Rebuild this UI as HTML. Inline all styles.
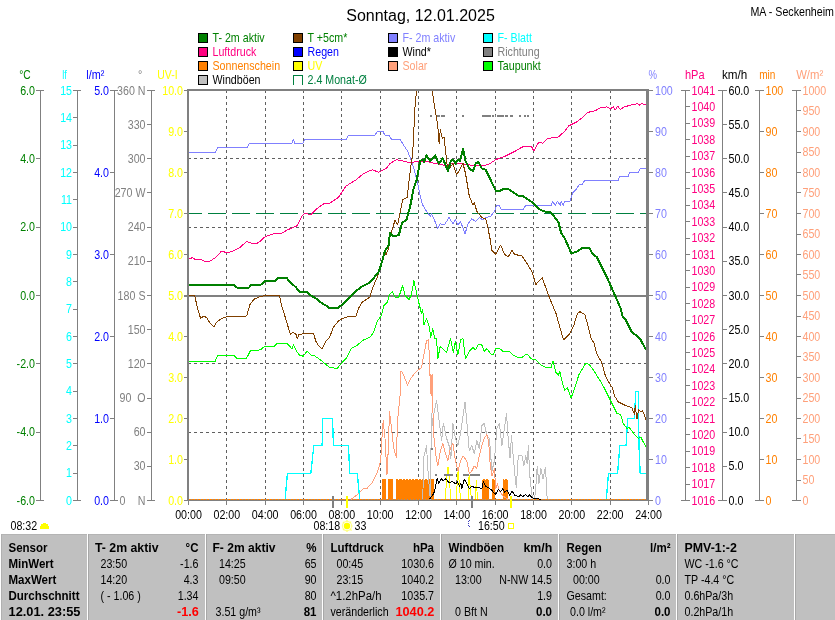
<!DOCTYPE html>
<html><head><meta charset="utf-8"><title>Wetter</title>
<style>html,body{margin:0;padding:0;background:#fff;overflow:hidden}svg{display:block;will-change:transform}text{font-family:"Liberation Sans",sans-serif;white-space:pre}</style>
</head><body>
<svg width="835" height="620" viewBox="0 0 835 620">
<rect x="0" y="0" width="835" height="620" fill="#fff"/>
<text x="420.5" y="20.6" font-size="16" text-anchor="middle" fill="#000">Sonntag, 12.01.2025</text>
<text transform="translate(834,15.8) scale(0.89,1)" fill="#000" text-anchor="end" font-size="12">MA - Seckenheim</text>
<rect x="198.5" y="33.5" width="9" height="9" fill="#008000" stroke="#000" stroke-width="1" shape-rendering="crispEdges"/>
<text transform="translate(212.5,42.3) scale(0.89,1)" fill="#008000" text-anchor="start" font-size="12">T- 2m aktiv</text>
<rect x="198.5" y="47.5" width="9" height="9" fill="#FF0080" stroke="#000" stroke-width="1" shape-rendering="crispEdges"/>
<text transform="translate(212.5,56.3) scale(0.89,1)" fill="#FF0080" text-anchor="start" font-size="12">Luftdruck</text>
<rect x="198.5" y="61.5" width="9" height="9" fill="#FF8000" stroke="#000" stroke-width="1" shape-rendering="crispEdges"/>
<text transform="translate(212.5,70.3) scale(0.89,1)" fill="#FF8000" text-anchor="start" font-size="12">Sonnenschein</text>
<rect x="198.5" y="75.5" width="9" height="9" fill="#C0C0C0" stroke="#000" stroke-width="1" shape-rendering="crispEdges"/>
<text transform="translate(212.5,84.3) scale(0.89,1)" fill="#000" text-anchor="start" font-size="12">Windböen</text>
<rect x="293.5" y="33.5" width="9" height="9" fill="#804000" stroke="#000" stroke-width="1" shape-rendering="crispEdges"/>
<text transform="translate(307.5,42.3) scale(0.89,1)" fill="#008000" text-anchor="start" font-size="12">T +5cm*</text>
<rect x="293.5" y="47.5" width="9" height="9" fill="#0000FF" stroke="#000" stroke-width="1" shape-rendering="crispEdges"/>
<text transform="translate(307.5,56.3) scale(0.89,1)" fill="#0000FF" text-anchor="start" font-size="12">Regen</text>
<rect x="293.5" y="61.5" width="9" height="9" fill="#FFFF00" stroke="#000" stroke-width="1" shape-rendering="crispEdges"/>
<text transform="translate(307.5,70.3) scale(0.89,1)" fill="#FFFF00" text-anchor="start" font-size="12">UV</text>
<path d="M293.5 84.5V75.5H302.5V84.5" fill="none" stroke="#008040" stroke-width="1" shape-rendering="crispEdges"/>
<text transform="translate(307.5,84.3) scale(0.89,1)" fill="#008040" text-anchor="start" font-size="12">2.4 Monat-Ø</text>
<rect x="388.5" y="33.5" width="9" height="9" fill="#8080FF" stroke="#000" stroke-width="1" shape-rendering="crispEdges"/>
<text transform="translate(402.5,42.3) scale(0.89,1)" fill="#8080FF" text-anchor="start" font-size="12">F- 2m aktiv</text>
<rect x="388.5" y="47.5" width="9" height="9" fill="#000000" stroke="#000" stroke-width="1" shape-rendering="crispEdges"/>
<text transform="translate(402.5,56.3) scale(0.89,1)" fill="#000" text-anchor="start" font-size="12">Wind*</text>
<rect x="388.5" y="61.5" width="9" height="9" fill="#FFA07A" stroke="#000" stroke-width="1" shape-rendering="crispEdges"/>
<text transform="translate(402.5,70.3) scale(0.89,1)" fill="#FFA07A" text-anchor="start" font-size="12">Solar</text>
<rect x="483.5" y="33.5" width="9" height="9" fill="#00FFFF" stroke="#000" stroke-width="1" shape-rendering="crispEdges"/>
<text transform="translate(497.5,42.3) scale(0.89,1)" fill="#00FFFF" text-anchor="start" font-size="12">F- Blatt</text>
<rect x="483.5" y="47.5" width="9" height="9" fill="#808080" stroke="#000" stroke-width="1" shape-rendering="crispEdges"/>
<text transform="translate(497.5,56.3) scale(0.89,1)" fill="#808080" text-anchor="start" font-size="12">Richtung</text>
<rect x="483.5" y="61.5" width="9" height="9" fill="#00FF00" stroke="#000" stroke-width="1" shape-rendering="crispEdges"/>
<text transform="translate(497.5,70.3) scale(0.89,1)" fill="#008000" text-anchor="start" font-size="12">Taupunkt</text>
<g shape-rendering="crispEdges">
<line x1="226.5" y1="90" x2="226.5" y2="500" stroke="#606060" stroke-width="1" stroke-dasharray="3 3"/>
<line x1="265.5" y1="90" x2="265.5" y2="500" stroke="#606060" stroke-width="1" stroke-dasharray="3 3"/>
<line x1="303.5" y1="90" x2="303.5" y2="500" stroke="#606060" stroke-width="1" stroke-dasharray="3 3"/>
<line x1="341.5" y1="90" x2="341.5" y2="500" stroke="#606060" stroke-width="1" stroke-dasharray="3 3"/>
<line x1="380.5" y1="90" x2="380.5" y2="500" stroke="#606060" stroke-width="1" stroke-dasharray="3 3"/>
<line x1="418.5" y1="90" x2="418.5" y2="500" stroke="#606060" stroke-width="1" stroke-dasharray="3 3"/>
<line x1="456.5" y1="90" x2="456.5" y2="500" stroke="#606060" stroke-width="1" stroke-dasharray="3 3"/>
<line x1="495.5" y1="90" x2="495.5" y2="500" stroke="#606060" stroke-width="1" stroke-dasharray="3 3"/>
<line x1="533.5" y1="90" x2="533.5" y2="500" stroke="#606060" stroke-width="1" stroke-dasharray="3 3"/>
<line x1="571.5" y1="90" x2="571.5" y2="500" stroke="#606060" stroke-width="1" stroke-dasharray="3 3"/>
<line x1="610.5" y1="90" x2="610.5" y2="500" stroke="#606060" stroke-width="1" stroke-dasharray="3 3"/>
<line x1="188" y1="158.5" x2="647" y2="158.5" stroke="#606060" stroke-width="1" stroke-dasharray="3 3"/>
<line x1="188" y1="227.5" x2="647" y2="227.5" stroke="#606060" stroke-width="1" stroke-dasharray="3 3"/>
<line x1="188" y1="363.5" x2="647" y2="363.5" stroke="#606060" stroke-width="1" stroke-dasharray="3 3"/>
<line x1="188" y1="432.5" x2="647" y2="432.5" stroke="#606060" stroke-width="1" stroke-dasharray="3 3"/>
</g>
<g shape-rendering="crispEdges" fill="#FF8000">
<rect x="382" y="479" width="4" height="21"/>
<rect x="388" y="479" width="4.5" height="21"/>
<rect x="396" y="479" width="38" height="21"/>
<rect x="482" y="479" width="7" height="21"/>
<rect x="492" y="479" width="3" height="21"/>
<rect x="503" y="479" width="5" height="21"/>
</g>
<g shape-rendering="crispEdges" fill="#fff">
<rect x="398" y="479" width="1" height="1"/>
<rect x="402" y="479" width="1" height="1"/>
<rect x="405" y="479" width="1" height="1"/>
<rect x="408" y="479" width="1" height="1"/>
<rect x="411" y="479" width="1" height="1"/>
<rect x="414" y="479" width="1" height="1"/>
<rect x="418" y="479" width="1" height="1"/>
<rect x="421" y="479" width="1" height="1"/>
<rect x="424" y="479" width="1" height="1"/>
<rect x="427" y="479" width="1" height="1"/>
<rect x="430" y="479" width="1" height="1"/>
<rect x="434" y="479" width="1" height="1"/>
<rect x="437" y="479" width="1" height="1"/>
<rect x="440" y="479" width="1" height="1"/>
<rect x="443" y="479" width="1" height="1"/>
<rect x="446" y="479" width="1" height="1"/>
<rect x="450" y="479" width="1" height="1"/>
<rect x="453" y="479" width="1" height="1"/>
<rect x="456" y="479" width="1" height="1"/>
<rect x="459" y="479" width="1" height="1"/>
<rect x="462" y="479" width="1" height="1"/>
<rect x="466" y="479" width="1" height="1"/>
<rect x="469" y="479" width="1" height="1"/>
<rect x="472" y="479" width="1" height="1"/>
<rect x="475" y="479" width="1" height="1"/>
<rect x="478" y="479" width="1" height="1"/>
<rect x="482" y="479" width="1" height="1"/>
<rect x="485" y="479" width="1" height="1"/>
<rect x="488" y="479" width="1" height="1"/>
<rect x="491" y="479" width="1" height="1"/>
<rect x="494" y="479" width="1" height="1"/>
<rect x="498" y="479" width="1" height="1"/>
<rect x="501" y="479" width="1" height="1"/>
<rect x="504" y="479" width="1" height="1"/>
<rect x="507" y="479" width="1" height="1"/>
</g>
<g shape-rendering="crispEdges">
<line x1="188" y1="500.5" x2="649" y2="500.5" stroke="#808080" stroke-width="1"/>
<line x1="188" y1="499.5" x2="647" y2="499.5" stroke="#909090" stroke-width="1"/>
<line x1="189" y1="499.5" x2="647" y2="499.5" stroke="#FF8000" stroke-width="1" stroke-dasharray="2 1"/>
</g>
<g shape-rendering="crispEdges">
<line x1="184" y1="295.5" x2="648" y2="295.5" stroke="#808080" stroke-width="2"/>
</g>
<g shape-rendering="crispEdges">
<line x1="184.3" y1="213.5" x2="647" y2="213.5" stroke="#008040" stroke-width="1" stroke-dasharray="17.6 6.4"/>
<polyline points="422.7,499.4 424.0,455.9 426.5,445.8 428.3,476.0 430.3,499.4 431.5,413.2 432.8,425.7 434.0,413.2 436.6,400.6 439.1,420.7 441.6,440.8 443.3,423.2 446.6,438.3 449.1,445.8 450.9,458.4 452.9,423.2 455.4,438.3 457.9,445.8 460.5,433.3 463.0,415.7 465.0,401.8 466.7,420.7 469.3,450.9 471.8,445.8 474.3,453.4 476.8,440.8 479.3,448.4 481.8,425.7 484.3,423.2 486.9,435.8 489.4,438.3 491.9,471.0 494.4,460.9 496.9,428.2 499.4,423.2 501.9,445.8 504.5,428.2 506.5,413.2 508.2,438.3 510.0,458.4 511.5,435.8 514.5,471.0 516.3,487.3 518.3,455.9 522.1,455.9 523.8,466.0 525.8,455.9 527.1,463.5 528.4,445.8 529.6,473.5 530.9,486.1 532.1,496.1 533.4,499.4 535.4,493.6 537.2,466.0 538.9,483.6 540.9,468.5 543.0,478.5 545.5,467.2 547.2,499.4" fill="none" stroke="#C0C0C0" stroke-width="1" stroke-linejoin="round"/>
<polyline points="351.0,499.4 358.5,493.6 363.6,488.6 367.3,488.1 372.4,482.3 377.4,472.3 380.7,460.9 381.9,438.3 383.2,420.7 385.0,438.3 387.0,474.8 388.2,450.9 389.5,411.9 391.2,425.7 393.8,448.4 396.3,457.2 397.6,420.7 400.1,395.5 400.6,371.3 402.6,372.6 407.6,385.1 411.4,377.6 416.4,371.3 421.5,367.5 424.0,353.7 426.5,341.1 428.6,339.5 430.0,376.0 430.4,394.0 431.0,374.0 431.5,396.0 432.6,374.0 433.0,413.2 434.0,438.3 436.0,455.9 437.8,466.0 440.3,450.9 442.8,443.3 445.4,453.4 447.9,460.9 450.4,448.4 452.9,443.3 455.4,460.9 457.9,471.0 460.5,460.9 463.0,455.9 466.7,460.9 469.3,473.5 471.8,471.0 474.3,466.0 476.8,468.5 479.3,455.9 481.8,445.8 484.3,438.3 486.9,434.5 488.6,440.8 490.1,463.5 491.9,476.0 494.4,468.5 495.7,488.6 497.4,483.6 499.4,491.1 503.2,496.1 508.2,499.4" fill="none" stroke="#FFA07A" stroke-width="1" stroke-linejoin="round"/>
<polyline points="" fill="none" stroke="#FFA07A" stroke-width="1" stroke-linejoin="round"/>
<polyline points="445.4,499.3 446.6,477.0 448.0,467.3 449.5,477.0 450.5,499.3" fill="none" stroke="#FFFF00" stroke-width="1" stroke-linejoin="round"/>
<polyline points="456.2,499.3 457.2,483.0 458.1,470.9 459.3,483.0 460.5,499.3" fill="none" stroke="#FFFF00" stroke-width="1" stroke-linejoin="round"/>
<polyline points="468.1,499.3 469.1,475.2 470.2,487.0 471.4,499.3" fill="none" stroke="#FFFF00" stroke-width="1" stroke-linejoin="round"/>
<polyline points="475.3,499.3 476.3,480.2 477.5,499.3" fill="none" stroke="#FFFF00" stroke-width="1" stroke-linejoin="round"/>
<polyline points="285.1,499.4 287.4,473.5 310.8,473.5 313.8,445.8 322.1,445.8 322.8,418.2 332.6,418.2 333.4,445.8 348.5,445.8 349.7,473.5 357.3,473.5 359.8,499.4" fill="none" stroke="#00FFFF" stroke-width="1.3" stroke-linejoin="round"/>
<polyline points="606.3,499.4 608.5,473.5 617.6,473.5 619.8,445.8 626.1,445.8 627.6,418.2 634.4,418.2 635.7,391.3 638.2,391.3 639.0,445.8 640.2,473.5 646.0,473.5" fill="none" stroke="#00FFFF" stroke-width="1.3" stroke-linejoin="round"/>
<polyline points="188.0,152.6 215.2,152.6 217.7,147.6 247.1,147.6 249.6,143.3 291.9,143.3 293.4,139.6 294.9,143.3 302.7,143.3 304.7,139.6 346.0,139.6 348.5,135.3 374.9,135.3 377.4,131.3 382.9,131.3 385.0,135.3 388.8,135.3 391.3,139.0 400.1,139.0 403.9,145.8 407.6,150.9 411.4,161.0 413.9,168.5 417.7,183.6 420.2,196.2 422.7,205.0 426.5,211.2 430.3,216.3 431.5,213.8 434.0,218.8 437.8,228.8 440.3,223.8 444.1,225.1 449.1,217.5 452.9,223.8 455.4,220.0 457.9,225.1 460.5,221.3 465.0,233.9 468.0,223.8 471.8,218.8 475.5,221.3 479.3,217.5 483.1,220.0 485.6,217.5 490.6,216.3 494.4,211.2 496.9,205.0 499.4,205.7 501.2,209.2 523.3,209.2 525.8,205.3 551.2,205.3 552.8,201.4 555.2,205.3 557.6,201.4 560.1,205.3 561.3,201.4 563.1,205.3 564.8,201.4 570.1,201.0 572.6,193.0 576.4,189.0 579.5,184.4 582.4,184.4 584.5,180.6 618.1,180.6 619.8,176.3 628.1,176.3 629.9,172.3 638.2,172.3 640.2,168.5 646.0,168.5" fill="none" stroke="#8080FF" stroke-width="1" stroke-linejoin="round"/>
<polyline points="188.0,259.4 192.5,257.6 195.0,259.4 201.3,259.4 203.9,261.1 210.2,261.1 216.4,256.9 221.5,251.1 226.5,252.6 231.5,251.8 239.1,248.1 246.6,241.6 250.4,243.0 256.7,243.5 260.5,240.9 265.5,236.4 275.5,233.1 281.8,233.1 288.1,229.6 296.9,225.8 302.7,215.0 305.7,213.0 310.8,215.0 315.8,209.5 324.6,203.2 329.6,203.2 338.4,197.4 346.0,186.1 356.0,179.8 363.6,173.5 372.4,169.7 378.7,172.3 386.2,168.5 390.0,163.5 396.3,159.7 402.6,161.0 410.2,162.7 417.7,161.4 425.2,161.0 435.3,163.5 445.4,165.5 452.9,163.5 460.5,163.5 468.0,164.7 478.1,166.0 488.1,164.7 495.7,159.7 505.7,155.9 515.8,150.9 522.1,147.1 526.3,146.3 531.3,146.3 533.8,150.9 538.9,142.1 542.6,143.3 547.7,138.3 557.7,137.5 564.0,132.0 569.0,125.7 576.6,122.0 581.6,118.2 587.9,112.4 595.5,110.6 600.5,107.6 606.8,106.9 610.5,108.6 613.6,106.9 615.1,110.1 617.6,106.1 620.1,109.4 624.4,106.9 630.7,105.1 634.4,104.3 637.7,103.6 639.5,105.1 642.0,103.6 646.0,105.1" fill="none" stroke="#FF0080" stroke-width="1" stroke-linejoin="round"/>
<polyline points="188.0,361.7 215.2,361.2 217.7,355.5 234.0,355.5 236.6,358.2 246.6,358.2 250.4,350.7 260.5,349.9 264.2,346.7 274.3,346.1 276.8,343.6 286.9,343.1 291.9,348.7 293.7,344.9 295.7,349.9 299.4,355.0 303.2,356.2 307.0,351.2 310.8,355.0 314.5,355.7 322.1,361.2 329.6,367.5 337.2,368.3 342.2,362.5 346.0,358.7 351.0,348.7 356.0,346.1 363.6,339.9 369.9,337.3 373.6,332.3 377.4,321.0 381.2,316.0 383.7,305.9 387.5,302.1 389.5,294.6 392.5,291.6 395.1,297.1 398.8,297.1 402.6,285.8 405.1,295.8 408.9,299.6 411.4,294.6 413.9,280.8 416.4,292.1 419.0,303.4 421.5,313.5 422.7,309.7 424.0,324.8 426.5,318.5 429.0,326.0 430.8,337.3 432.8,328.5 434.8,338.6 436.6,338.6 437.8,358.7 440.3,346.1 444.1,349.9 446.6,352.4 450.4,338.6 453.4,352.4 455.4,341.1 457.9,355.0 460.5,339.9 463.0,338.6 465.5,358.7 469.3,351.2 473.0,347.4 475.5,349.9 478.1,344.9 481.8,344.9 484.3,351.2 486.9,348.7 490.6,353.7 493.1,355.0 495.7,348.2 499.4,348.2 503.2,351.7 509.5,351.7 513.3,355.0 518.3,357.5 522.1,357.5 525.8,354.2 528.4,355.0 530.9,358.7 535.9,360.0 540.9,365.0 546.0,367.5 551.0,367.5 553.0,361.2 556.0,372.6 558.5,375.1 559.8,371.3 562.3,382.6 564.8,390.2 567.3,387.6 571.1,398.0 576.2,383.9 578.7,375.1 582.4,368.8 585.4,363.7 589.2,364.2 594.2,371.3 600.5,381.3 604.3,388.0 610.5,400.6 616.8,413.2 620.6,414.4 623.1,423.2 626.9,428.2 629.4,427.7 634.4,434.5 638.2,438.3 640.7,437.0 646.0,447.1" fill="none" stroke="#00FF00" stroke-width="1" stroke-linejoin="round"/>
<polyline points="188.0,295.3 194.6,295.3 197.6,308.4 200.6,318.5 203.1,316.5 206.4,317.2 210.2,323.5 213.9,326.8 216.4,322.3 221.5,318.5 227.8,316.5 246.6,316.0 249.9,304.6 254.2,299.1 260.5,296.3 268.0,295.3 279.3,295.3 281.8,305.9 285.6,318.5 289.4,331.0 290.6,334.8 292.6,332.3 295.7,333.6 297.4,338.6 298.7,334.8 303.2,333.6 313.3,333.1 315.8,341.1 318.3,345.6 322.1,348.7 325.8,341.1 329.6,337.3 333.4,327.3 338.4,321.0 342.2,318.5 348.5,316.7 356.0,316.0 358.5,308.4 362.3,302.1 369.9,297.1 372.4,288.3 377.4,277.0 381.2,265.7 383.7,253.1 386.2,254.3 388.7,248.1 390.0,236.4 395.1,220.0 397.6,225.0 402.6,200.0 407.1,197.4 410.2,171.0 412.7,153.4 415.2,103.0 416.7,90.0" fill="none" stroke="#804000" stroke-width="1" stroke-linejoin="round"/>
<polyline points="432.3,90.0 434.0,103.0 437.8,125.7 439.1,143.3 440.3,129.5 442.3,138.3 444.1,137.0 446.6,161.0 447.9,171.0 452.9,163.5 456.7,174.8 463.0,163.5 465.5,173.5 469.3,196.2 473.0,205.0 474.3,202.4 476.8,211.2 481.8,217.5 485.6,218.8 488.1,228.8 490.3,240.0 491.9,250.6 495.7,254.3 500.7,245.0 504.5,254.3 508.2,256.9 512.0,250.6 514.5,254.3 522.1,256.1 528.4,265.7 532.1,272.0 535.9,284.5 542.2,277.7 546.0,288.3 549.7,298.4 556.0,313.5 559.8,327.3 563.6,339.9 569.9,333.6 573.6,326.0 577.4,313.5 579.9,311.7 584.9,314.7 588.7,328.5 591.2,338.6 594.2,343.6 596.7,353.7 601.7,362.5 605.5,376.3 610.5,385.1 612.6,388.0 614.3,395.5 618.1,401.8 625.6,405.6 631.9,407.6 634.4,414.4 635.2,405.6 637.0,419.4 638.7,409.4 640.7,411.9 642.5,410.6 646.0,419.4" fill="none" stroke="#804000" stroke-width="1" stroke-linejoin="round"/>
<polyline points="188.0,285.3 234.0,285.3 236.6,287.5 249.1,287.5 250.9,285.0 260.5,285.0 265.0,281.3 274.3,281.3 278.1,278.2 286.9,278.2 290.6,282.8 295.7,287.0 299.4,291.6 307.0,292.1 310.8,295.3 315.8,298.4 322.1,303.4 325.8,305.4 329.6,308.4 337.2,308.4 342.2,304.7 348.5,298.4 354.8,292.1 361.1,287.0 368.6,283.3 373.6,278.2 378.7,271.9 382.4,260.6 385.0,250.6 388.7,245.5 390.0,232.6 393.8,236.4 398.8,235.1 402.1,222.6 406.4,220.0 410.2,206.2 413.9,187.3 416.4,181.0 420.2,161.0 422.7,159.7 424.0,162.2 426.5,155.4 430.3,161.0 435.3,155.4 438.6,163.5 442.8,158.4 447.9,171.0 450.9,161.0 452.9,159.7 455.4,163.5 457.9,159.7 460.0,161.0 463.0,148.9 465.5,161.0 469.3,168.5 473.0,171.0 476.0,163.0 478.6,162.2 481.8,168.5 485.6,169.7 489.4,177.3 495.7,190.6 499.4,191.1 503.2,189.1 508.2,189.1 513.3,192.4 518.3,195.6 523.3,196.2 528.4,199.9 533.4,203.2 538.4,208.7 543.4,211.2 551.0,212.5 556.0,218.8 558.5,222.6 561.0,232.6 564.5,238.0 571.4,253.4 576.6,251.8 582.9,247.6 589.2,247.6 592.9,254.3 596.7,256.9 601.7,266.9 606.8,277.0 611.8,288.3 616.8,299.6 620.6,308.4 622.4,316.0 625.6,319.7 631.9,332.3 637.0,336.1 640.7,339.9 646.0,349.9" fill="none" stroke="#008000" stroke-width="2" stroke-linejoin="round"/>
<polyline points="429.3,499.3 433.6,493.9 435.1,488.9 437.2,478.5 438.7,483.1 441.6,478.5 443.0,481.0 445.9,478.8 448.7,482.4 452.3,481.7 455.9,483.8 457.6,481.7 459.5,486.0 460.9,483.1 461.7,488.9 464.3,479.5 466.7,483.1 469.6,488.9 471.7,486.0 474.6,487.7 482.1,488.1 483.2,481.7 485.4,486.0 489.0,488.1 491.8,490.3 495.4,494.6 498.3,489.6 500.5,491.7 502.6,488.9 504.8,492.4 506.9,490.3 509.8,495.3 512.0,491.0 514.8,495.3 519.1,496.8 520.6,494.6 522.7,496.8 525.6,494.3 527.8,496.8 529.2,494.6 532.1,497.5 534.9,498.6 541.5,499.3" fill="none" stroke="#000" stroke-width="1" stroke-linejoin="round"/>
<rect x="430" y="115" width="2" height="2" fill="#808080"/>
<rect x="437" y="115" width="3" height="2" fill="#808080"/>
<rect x="441" y="115" width="4" height="2" fill="#808080"/>
<rect x="462" y="115" width="2" height="2" fill="#808080"/>
<rect x="482" y="115" width="9" height="2" fill="#808080"/>
<rect x="492" y="115" width="2" height="2" fill="#808080"/>
<rect x="495" y="115" width="1" height="2" fill="#808080"/>
<rect x="497" y="115" width="7" height="2" fill="#808080"/>
<rect x="505" y="115" width="3" height="2" fill="#808080"/>
<rect x="510" y="115" width="3" height="2" fill="#808080"/>
<rect x="519" y="115" width="2" height="2" fill="#808080"/>
<rect x="524" y="115" width="2" height="2" fill="#808080"/>
<rect x="527" y="115" width="2" height="2" fill="#808080"/>
<rect x="435" y="474" width="2" height="2" fill="#808080"/>
<rect x="444" y="474" width="9" height="2" fill="#808080"/>
<rect x="463" y="474" width="6" height="2" fill="#808080"/>
<rect x="470" y="474" width="10" height="2" fill="#808080"/>
<rect x="431" y="448" width="2" height="2" fill="#808080"/>
</g>
<g shape-rendering="crispEdges">
<rect x="187" y="89" width="462" height="2" fill="#808080"/>
<rect x="187" y="89" width="2" height="411" fill="#808080"/>
<rect x="646" y="89" width="3" height="411" fill="#808080"/>
</g>
<g shape-rendering="crispEdges">
<line x1="40.5" y1="90" x2="40.5" y2="501" stroke="#808080" stroke-width="1"/>
<line x1="36" y1="90.5" x2="44" y2="90.5" stroke="#808080" stroke-width="1"/>
<line x1="36" y1="158.5" x2="40" y2="158.5" stroke="#808080" stroke-width="1"/>
<line x1="36" y1="227.5" x2="40" y2="227.5" stroke="#808080" stroke-width="1"/>
<line x1="36" y1="295.5" x2="40" y2="295.5" stroke="#808080" stroke-width="1"/>
<line x1="36" y1="363.5" x2="40" y2="363.5" stroke="#808080" stroke-width="1"/>
<line x1="36" y1="432.5" x2="40" y2="432.5" stroke="#808080" stroke-width="1"/>
<line x1="36" y1="500.5" x2="44" y2="500.5" stroke="#808080" stroke-width="1"/>
</g>
<text transform="translate(35,94.6) scale(0.89,1)" fill="#008000" text-anchor="end" font-size="12">6.0</text>
<text transform="translate(35,162.9333333333333) scale(0.89,1)" fill="#008000" text-anchor="end" font-size="12">4.0</text>
<text transform="translate(35,231.26666666666665) scale(0.89,1)" fill="#008000" text-anchor="end" font-size="12">2.0</text>
<text transform="translate(35,299.6) scale(0.89,1)" fill="#008000" text-anchor="end" font-size="12">0.0</text>
<text transform="translate(35,367.93333333333334) scale(0.89,1)" fill="#008000" text-anchor="end" font-size="12">-2.0</text>
<text transform="translate(35,436.2666666666667) scale(0.89,1)" fill="#008000" text-anchor="end" font-size="12">-4.0</text>
<text transform="translate(35,504.6) scale(0.89,1)" fill="#008000" text-anchor="end" font-size="12">-6.0</text>
<text x="19.2" y="79" fill="#008000" text-anchor="start" font-size="12" textLength="11.5" lengthAdjust="spacingAndGlyphs">°C</text>
<g shape-rendering="crispEdges">
<line x1="77.5" y1="90" x2="77.5" y2="501" stroke="#808080" stroke-width="1"/>
<line x1="73" y1="90.5" x2="81" y2="90.5" stroke="#808080" stroke-width="1"/>
<line x1="73" y1="117.5" x2="77" y2="117.5" stroke="#808080" stroke-width="1"/>
<line x1="73" y1="145.5" x2="77" y2="145.5" stroke="#808080" stroke-width="1"/>
<line x1="73" y1="172.5" x2="77" y2="172.5" stroke="#808080" stroke-width="1"/>
<line x1="73" y1="199.5" x2="77" y2="199.5" stroke="#808080" stroke-width="1"/>
<line x1="73" y1="227.5" x2="77" y2="227.5" stroke="#808080" stroke-width="1"/>
<line x1="73" y1="254.5" x2="77" y2="254.5" stroke="#808080" stroke-width="1"/>
<line x1="73" y1="281.5" x2="77" y2="281.5" stroke="#808080" stroke-width="1"/>
<line x1="73" y1="309.5" x2="77" y2="309.5" stroke="#808080" stroke-width="1"/>
<line x1="73" y1="336.5" x2="77" y2="336.5" stroke="#808080" stroke-width="1"/>
<line x1="73" y1="363.5" x2="77" y2="363.5" stroke="#808080" stroke-width="1"/>
<line x1="73" y1="391.5" x2="77" y2="391.5" stroke="#808080" stroke-width="1"/>
<line x1="73" y1="418.5" x2="77" y2="418.5" stroke="#808080" stroke-width="1"/>
<line x1="73" y1="445.5" x2="77" y2="445.5" stroke="#808080" stroke-width="1"/>
<line x1="73" y1="473.5" x2="77" y2="473.5" stroke="#808080" stroke-width="1"/>
<line x1="73" y1="500.5" x2="81" y2="500.5" stroke="#808080" stroke-width="1"/>
</g>
<text transform="translate(72,94.6) scale(0.89,1)" fill="#00FFFF" text-anchor="end" font-size="12">15</text>
<text transform="translate(72,121.93333333333332) scale(0.89,1)" fill="#00FFFF" text-anchor="end" font-size="12">14</text>
<text transform="translate(72,149.26666666666665) scale(0.89,1)" fill="#00FFFF" text-anchor="end" font-size="12">13</text>
<text transform="translate(72,176.6) scale(0.89,1)" fill="#00FFFF" text-anchor="end" font-size="12">12</text>
<text transform="translate(72,203.9333333333333) scale(0.89,1)" fill="#00FFFF" text-anchor="end" font-size="12">11</text>
<text transform="translate(72,231.26666666666665) scale(0.89,1)" fill="#00FFFF" text-anchor="end" font-size="12">10</text>
<text transform="translate(72,258.6) scale(0.89,1)" fill="#00FFFF" text-anchor="end" font-size="12">9</text>
<text transform="translate(72,285.9333333333334) scale(0.89,1)" fill="#00FFFF" text-anchor="end" font-size="12">8</text>
<text transform="translate(72,313.26666666666665) scale(0.89,1)" fill="#00FFFF" text-anchor="end" font-size="12">7</text>
<text transform="translate(72,340.6) scale(0.89,1)" fill="#00FFFF" text-anchor="end" font-size="12">6</text>
<text transform="translate(72,367.93333333333334) scale(0.89,1)" fill="#00FFFF" text-anchor="end" font-size="12">5</text>
<text transform="translate(72,395.2666666666667) scale(0.89,1)" fill="#00FFFF" text-anchor="end" font-size="12">4</text>
<text transform="translate(72,422.6) scale(0.89,1)" fill="#00FFFF" text-anchor="end" font-size="12">3</text>
<text transform="translate(72,449.93333333333334) scale(0.89,1)" fill="#00FFFF" text-anchor="end" font-size="12">2</text>
<text transform="translate(72,477.2666666666667) scale(0.89,1)" fill="#00FFFF" text-anchor="end" font-size="12">1</text>
<text transform="translate(72,504.6) scale(0.89,1)" fill="#00FFFF" text-anchor="end" font-size="12">0</text>
<text x="62.3" y="79" fill="#00FFFF" text-anchor="start" font-size="12" textLength="4.6" lengthAdjust="spacingAndGlyphs">lf</text>
<g shape-rendering="crispEdges">
<line x1="114.5" y1="90" x2="114.5" y2="501" stroke="#808080" stroke-width="1"/>
<line x1="110" y1="90.5" x2="118" y2="90.5" stroke="#808080" stroke-width="1"/>
<line x1="110" y1="172.5" x2="114" y2="172.5" stroke="#808080" stroke-width="1"/>
<line x1="110" y1="254.5" x2="114" y2="254.5" stroke="#808080" stroke-width="1"/>
<line x1="110" y1="336.5" x2="114" y2="336.5" stroke="#808080" stroke-width="1"/>
<line x1="110" y1="418.5" x2="114" y2="418.5" stroke="#808080" stroke-width="1"/>
<line x1="110" y1="500.5" x2="118" y2="500.5" stroke="#808080" stroke-width="1"/>
</g>
<text transform="translate(109,94.6) scale(0.89,1)" fill="#0000FF" text-anchor="end" font-size="12">5.0</text>
<text transform="translate(109,176.6) scale(0.89,1)" fill="#0000FF" text-anchor="end" font-size="12">4.0</text>
<text transform="translate(109,258.6) scale(0.89,1)" fill="#0000FF" text-anchor="end" font-size="12">3.0</text>
<text transform="translate(109,340.6) scale(0.89,1)" fill="#0000FF" text-anchor="end" font-size="12">2.0</text>
<text transform="translate(109,422.6) scale(0.89,1)" fill="#0000FF" text-anchor="end" font-size="12">1.0</text>
<text transform="translate(109,504.6) scale(0.89,1)" fill="#0000FF" text-anchor="end" font-size="12">0.0</text>
<text x="86.3" y="79" fill="#0000FF" text-anchor="start" font-size="12" textLength="18" lengthAdjust="spacingAndGlyphs">l/m²</text>
<g shape-rendering="crispEdges">
<line x1="151.5" y1="90" x2="151.5" y2="501" stroke="#808080" stroke-width="1"/>
<line x1="147" y1="90.5" x2="155" y2="90.5" stroke="#808080" stroke-width="1"/>
<line x1="147" y1="124.5" x2="151" y2="124.5" stroke="#808080" stroke-width="1"/>
<line x1="147" y1="158.5" x2="151" y2="158.5" stroke="#808080" stroke-width="1"/>
<line x1="147" y1="192.5" x2="151" y2="192.5" stroke="#808080" stroke-width="1"/>
<line x1="147" y1="227.5" x2="151" y2="227.5" stroke="#808080" stroke-width="1"/>
<line x1="147" y1="261.5" x2="151" y2="261.5" stroke="#808080" stroke-width="1"/>
<line x1="147" y1="295.5" x2="151" y2="295.5" stroke="#808080" stroke-width="1"/>
<line x1="147" y1="329.5" x2="151" y2="329.5" stroke="#808080" stroke-width="1"/>
<line x1="147" y1="363.5" x2="151" y2="363.5" stroke="#808080" stroke-width="1"/>
<line x1="147" y1="398.5" x2="151" y2="398.5" stroke="#808080" stroke-width="1"/>
<line x1="147" y1="432.5" x2="151" y2="432.5" stroke="#808080" stroke-width="1"/>
<line x1="147" y1="466.5" x2="151" y2="466.5" stroke="#808080" stroke-width="1"/>
<line x1="147" y1="500.5" x2="155" y2="500.5" stroke="#808080" stroke-width="1"/>
</g>
<text transform="translate(145.5,94.6) scale(0.89,1)" fill="#808080" text-anchor="end" font-size="12">360 N</text>
<text transform="translate(145.5,128.76666666666665) scale(0.89,1)" fill="#808080" text-anchor="end" font-size="12">330</text>
<text transform="translate(145.5,162.9333333333333) scale(0.89,1)" fill="#808080" text-anchor="end" font-size="12">300</text>
<text transform="translate(145.5,197.1) scale(0.89,1)" fill="#808080" text-anchor="end" font-size="12">270 W</text>
<text transform="translate(145.5,231.26666666666665) scale(0.89,1)" fill="#808080" text-anchor="end" font-size="12">240</text>
<text transform="translate(145.5,265.4333333333334) scale(0.89,1)" fill="#808080" text-anchor="end" font-size="12">210</text>
<text transform="translate(145.5,299.6) scale(0.89,1)" fill="#808080" text-anchor="end" font-size="12">180 S</text>
<text transform="translate(145.5,333.76666666666665) scale(0.89,1)" fill="#808080" text-anchor="end" font-size="12">150</text>
<text transform="translate(145.5,367.93333333333334) scale(0.89,1)" fill="#808080" text-anchor="end" font-size="12">120</text>
<text transform="translate(119.5,402.1) scale(0.89,1)" fill="#808080" text-anchor="start" font-size="12">90</text>
<text transform="translate(145.5,402.1) scale(0.89,1)" fill="#808080" text-anchor="end" font-size="12">O</text>
<text transform="translate(145.5,436.2666666666667) scale(0.89,1)" fill="#808080" text-anchor="end" font-size="12">60</text>
<text transform="translate(145.5,470.43333333333334) scale(0.89,1)" fill="#808080" text-anchor="end" font-size="12">30</text>
<text transform="translate(119.5,504.6) scale(0.89,1)" fill="#808080" text-anchor="start" font-size="12">0</text>
<text transform="translate(145.5,504.6) scale(0.89,1)" fill="#808080" text-anchor="end" font-size="12">N</text>
<text transform="translate(138,79) scale(0.89,1)" fill="#808080" text-anchor="start" font-size="12">°</text>
<g shape-rendering="crispEdges">
<line x1="184" y1="90.5" x2="188" y2="90.5" stroke="#808080" stroke-width="1"/>
<line x1="184" y1="131.5" x2="188" y2="131.5" stroke="#808080" stroke-width="1"/>
<line x1="184" y1="172.5" x2="188" y2="172.5" stroke="#808080" stroke-width="1"/>
<line x1="184" y1="213.5" x2="188" y2="213.5" stroke="#808080" stroke-width="1"/>
<line x1="184" y1="254.5" x2="188" y2="254.5" stroke="#808080" stroke-width="1"/>
<line x1="184" y1="295.5" x2="188" y2="295.5" stroke="#808080" stroke-width="1"/>
<line x1="184" y1="336.5" x2="188" y2="336.5" stroke="#808080" stroke-width="1"/>
<line x1="184" y1="377.5" x2="188" y2="377.5" stroke="#808080" stroke-width="1"/>
<line x1="184" y1="418.5" x2="188" y2="418.5" stroke="#808080" stroke-width="1"/>
<line x1="184" y1="459.5" x2="188" y2="459.5" stroke="#808080" stroke-width="1"/>
<line x1="184" y1="500.5" x2="188" y2="500.5" stroke="#808080" stroke-width="1"/>
</g>
<text transform="translate(183,94.6) scale(0.89,1)" fill="#FFFF00" text-anchor="end" font-size="12">10.0</text>
<text transform="translate(183,135.6) scale(0.89,1)" fill="#FFFF00" text-anchor="end" font-size="12">9.0</text>
<text transform="translate(183,176.6) scale(0.89,1)" fill="#FFFF00" text-anchor="end" font-size="12">8.0</text>
<text transform="translate(183,217.6) scale(0.89,1)" fill="#FFFF00" text-anchor="end" font-size="12">7.0</text>
<text transform="translate(183,258.6) scale(0.89,1)" fill="#FFFF00" text-anchor="end" font-size="12">6.0</text>
<text transform="translate(183,299.6) scale(0.89,1)" fill="#FFFF00" text-anchor="end" font-size="12">5.0</text>
<text transform="translate(183,340.6) scale(0.89,1)" fill="#FFFF00" text-anchor="end" font-size="12">4.0</text>
<text transform="translate(183,381.6) scale(0.89,1)" fill="#FFFF00" text-anchor="end" font-size="12">3.0</text>
<text transform="translate(183,422.6) scale(0.89,1)" fill="#FFFF00" text-anchor="end" font-size="12">2.0</text>
<text transform="translate(183,463.6) scale(0.89,1)" fill="#FFFF00" text-anchor="end" font-size="12">1.0</text>
<text transform="translate(183,504.6) scale(0.89,1)" fill="#FFFF00" text-anchor="end" font-size="12">0.0</text>
<text x="157.3" y="79" fill="#FFFF00" text-anchor="start" font-size="12" textLength="20.3" lengthAdjust="spacingAndGlyphs">UV-I</text>
<g shape-rendering="crispEdges">
<line x1="648" y1="90.5" x2="653" y2="90.5" stroke="#808080" stroke-width="1"/>
<line x1="648" y1="131.5" x2="653" y2="131.5" stroke="#808080" stroke-width="1"/>
<line x1="648" y1="172.5" x2="653" y2="172.5" stroke="#808080" stroke-width="1"/>
<line x1="648" y1="213.5" x2="653" y2="213.5" stroke="#808080" stroke-width="1"/>
<line x1="648" y1="254.5" x2="653" y2="254.5" stroke="#808080" stroke-width="1"/>
<line x1="648" y1="295.5" x2="653" y2="295.5" stroke="#808080" stroke-width="1"/>
<line x1="648" y1="336.5" x2="653" y2="336.5" stroke="#808080" stroke-width="1"/>
<line x1="648" y1="377.5" x2="653" y2="377.5" stroke="#808080" stroke-width="1"/>
<line x1="648" y1="418.5" x2="653" y2="418.5" stroke="#808080" stroke-width="1"/>
<line x1="648" y1="459.5" x2="653" y2="459.5" stroke="#808080" stroke-width="1"/>
<line x1="648" y1="500.5" x2="653" y2="500.5" stroke="#808080" stroke-width="1"/>
</g>
<text transform="translate(655,94.6) scale(0.89,1)" fill="#8080FF" text-anchor="start" font-size="12">100</text>
<text transform="translate(655,135.6) scale(0.89,1)" fill="#8080FF" text-anchor="start" font-size="12">90</text>
<text transform="translate(655,176.6) scale(0.89,1)" fill="#8080FF" text-anchor="start" font-size="12">80</text>
<text transform="translate(655,217.6) scale(0.89,1)" fill="#8080FF" text-anchor="start" font-size="12">70</text>
<text transform="translate(655,258.6) scale(0.89,1)" fill="#8080FF" text-anchor="start" font-size="12">60</text>
<text transform="translate(655,299.6) scale(0.89,1)" fill="#8080FF" text-anchor="start" font-size="12">50</text>
<text transform="translate(655,340.6) scale(0.89,1)" fill="#8080FF" text-anchor="start" font-size="12">40</text>
<text transform="translate(655,381.6) scale(0.89,1)" fill="#8080FF" text-anchor="start" font-size="12">30</text>
<text transform="translate(655,422.6) scale(0.89,1)" fill="#8080FF" text-anchor="start" font-size="12">20</text>
<text transform="translate(655,463.6) scale(0.89,1)" fill="#8080FF" text-anchor="start" font-size="12">10</text>
<text transform="translate(655,504.6) scale(0.89,1)" fill="#8080FF" text-anchor="start" font-size="12">0</text>
<text x="648.5" y="79" fill="#8080FF" text-anchor="start" font-size="12" textLength="8.5" lengthAdjust="spacingAndGlyphs">%</text>
<g shape-rendering="crispEdges">
<line x1="685.5" y1="90" x2="685.5" y2="501" stroke="#808080" stroke-width="1"/>
<line x1="681" y1="90.5" x2="690" y2="90.5" stroke="#808080" stroke-width="1"/>
<line x1="685" y1="106.5" x2="690" y2="106.5" stroke="#808080" stroke-width="1"/>
<line x1="685" y1="123.5" x2="690" y2="123.5" stroke="#808080" stroke-width="1"/>
<line x1="685" y1="139.5" x2="690" y2="139.5" stroke="#808080" stroke-width="1"/>
<line x1="685" y1="156.5" x2="690" y2="156.5" stroke="#808080" stroke-width="1"/>
<line x1="685" y1="172.5" x2="690" y2="172.5" stroke="#808080" stroke-width="1"/>
<line x1="685" y1="188.5" x2="690" y2="188.5" stroke="#808080" stroke-width="1"/>
<line x1="685" y1="205.5" x2="690" y2="205.5" stroke="#808080" stroke-width="1"/>
<line x1="685" y1="221.5" x2="690" y2="221.5" stroke="#808080" stroke-width="1"/>
<line x1="685" y1="238.5" x2="690" y2="238.5" stroke="#808080" stroke-width="1"/>
<line x1="685" y1="254.5" x2="690" y2="254.5" stroke="#808080" stroke-width="1"/>
<line x1="685" y1="270.5" x2="690" y2="270.5" stroke="#808080" stroke-width="1"/>
<line x1="685" y1="287.5" x2="690" y2="287.5" stroke="#808080" stroke-width="1"/>
<line x1="685" y1="303.5" x2="690" y2="303.5" stroke="#808080" stroke-width="1"/>
<line x1="685" y1="320.5" x2="690" y2="320.5" stroke="#808080" stroke-width="1"/>
<line x1="685" y1="336.5" x2="690" y2="336.5" stroke="#808080" stroke-width="1"/>
<line x1="685" y1="352.5" x2="690" y2="352.5" stroke="#808080" stroke-width="1"/>
<line x1="685" y1="369.5" x2="690" y2="369.5" stroke="#808080" stroke-width="1"/>
<line x1="685" y1="385.5" x2="690" y2="385.5" stroke="#808080" stroke-width="1"/>
<line x1="685" y1="402.5" x2="690" y2="402.5" stroke="#808080" stroke-width="1"/>
<line x1="685" y1="418.5" x2="690" y2="418.5" stroke="#808080" stroke-width="1"/>
<line x1="685" y1="434.5" x2="690" y2="434.5" stroke="#808080" stroke-width="1"/>
<line x1="685" y1="451.5" x2="690" y2="451.5" stroke="#808080" stroke-width="1"/>
<line x1="685" y1="467.5" x2="690" y2="467.5" stroke="#808080" stroke-width="1"/>
<line x1="685" y1="484.5" x2="690" y2="484.5" stroke="#808080" stroke-width="1"/>
<line x1="681" y1="500.5" x2="690" y2="500.5" stroke="#808080" stroke-width="1"/>
</g>
<text transform="translate(691.5,94.6) scale(0.89,1)" fill="#FF0080" text-anchor="start" font-size="12">1041</text>
<text transform="translate(691.5,111.0) scale(0.89,1)" fill="#FF0080" text-anchor="start" font-size="12">1040</text>
<text transform="translate(691.5,127.39999999999999) scale(0.89,1)" fill="#FF0080" text-anchor="start" font-size="12">1039</text>
<text transform="translate(691.5,143.79999999999998) scale(0.89,1)" fill="#FF0080" text-anchor="start" font-size="12">1038</text>
<text transform="translate(691.5,160.2) scale(0.89,1)" fill="#FF0080" text-anchor="start" font-size="12">1037</text>
<text transform="translate(691.5,176.6) scale(0.89,1)" fill="#FF0080" text-anchor="start" font-size="12">1036</text>
<text transform="translate(691.5,193.0) scale(0.89,1)" fill="#FF0080" text-anchor="start" font-size="12">1035</text>
<text transform="translate(691.5,209.4) scale(0.89,1)" fill="#FF0080" text-anchor="start" font-size="12">1034</text>
<text transform="translate(691.5,225.79999999999998) scale(0.89,1)" fill="#FF0080" text-anchor="start" font-size="12">1033</text>
<text transform="translate(691.5,242.2) scale(0.89,1)" fill="#FF0080" text-anchor="start" font-size="12">1032</text>
<text transform="translate(691.5,258.6) scale(0.89,1)" fill="#FF0080" text-anchor="start" font-size="12">1031</text>
<text transform="translate(691.5,275.0) scale(0.89,1)" fill="#FF0080" text-anchor="start" font-size="12">1030</text>
<text transform="translate(691.5,291.40000000000003) scale(0.89,1)" fill="#FF0080" text-anchor="start" font-size="12">1029</text>
<text transform="translate(691.5,307.8) scale(0.89,1)" fill="#FF0080" text-anchor="start" font-size="12">1028</text>
<text transform="translate(691.5,324.20000000000005) scale(0.89,1)" fill="#FF0080" text-anchor="start" font-size="12">1027</text>
<text transform="translate(691.5,340.6) scale(0.89,1)" fill="#FF0080" text-anchor="start" font-size="12">1026</text>
<text transform="translate(691.5,357.0) scale(0.89,1)" fill="#FF0080" text-anchor="start" font-size="12">1025</text>
<text transform="translate(691.5,373.40000000000003) scale(0.89,1)" fill="#FF0080" text-anchor="start" font-size="12">1024</text>
<text transform="translate(691.5,389.8) scale(0.89,1)" fill="#FF0080" text-anchor="start" font-size="12">1023</text>
<text transform="translate(691.5,406.20000000000005) scale(0.89,1)" fill="#FF0080" text-anchor="start" font-size="12">1022</text>
<text transform="translate(691.5,422.6) scale(0.89,1)" fill="#FF0080" text-anchor="start" font-size="12">1021</text>
<text transform="translate(691.5,439.0) scale(0.89,1)" fill="#FF0080" text-anchor="start" font-size="12">1020</text>
<text transform="translate(691.5,455.40000000000003) scale(0.89,1)" fill="#FF0080" text-anchor="start" font-size="12">1019</text>
<text transform="translate(691.5,471.8) scale(0.89,1)" fill="#FF0080" text-anchor="start" font-size="12">1018</text>
<text transform="translate(691.5,488.20000000000005) scale(0.89,1)" fill="#FF0080" text-anchor="start" font-size="12">1017</text>
<text transform="translate(691.5,504.6) scale(0.89,1)" fill="#FF0080" text-anchor="start" font-size="12">1016</text>
<text x="685" y="79" fill="#FF0080" text-anchor="start" font-size="12" textLength="19.6" lengthAdjust="spacingAndGlyphs">hPa</text>
<g shape-rendering="crispEdges">
<line x1="722.5" y1="90" x2="722.5" y2="501" stroke="#808080" stroke-width="1"/>
<line x1="718" y1="90.5" x2="727" y2="90.5" stroke="#808080" stroke-width="1"/>
<line x1="722" y1="124.5" x2="727" y2="124.5" stroke="#808080" stroke-width="1"/>
<line x1="722" y1="158.5" x2="727" y2="158.5" stroke="#808080" stroke-width="1"/>
<line x1="722" y1="192.5" x2="727" y2="192.5" stroke="#808080" stroke-width="1"/>
<line x1="722" y1="227.5" x2="727" y2="227.5" stroke="#808080" stroke-width="1"/>
<line x1="722" y1="261.5" x2="727" y2="261.5" stroke="#808080" stroke-width="1"/>
<line x1="722" y1="295.5" x2="727" y2="295.5" stroke="#808080" stroke-width="1"/>
<line x1="722" y1="329.5" x2="727" y2="329.5" stroke="#808080" stroke-width="1"/>
<line x1="722" y1="363.5" x2="727" y2="363.5" stroke="#808080" stroke-width="1"/>
<line x1="722" y1="398.5" x2="727" y2="398.5" stroke="#808080" stroke-width="1"/>
<line x1="722" y1="432.5" x2="727" y2="432.5" stroke="#808080" stroke-width="1"/>
<line x1="722" y1="466.5" x2="727" y2="466.5" stroke="#808080" stroke-width="1"/>
<line x1="718" y1="500.5" x2="727" y2="500.5" stroke="#808080" stroke-width="1"/>
</g>
<text transform="translate(728.5,94.6) scale(0.89,1)" fill="#000" text-anchor="start" font-size="12">60.0</text>
<text transform="translate(728.5,128.76666666666665) scale(0.89,1)" fill="#000" text-anchor="start" font-size="12">55.0</text>
<text transform="translate(728.5,162.9333333333333) scale(0.89,1)" fill="#000" text-anchor="start" font-size="12">50.0</text>
<text transform="translate(728.5,197.1) scale(0.89,1)" fill="#000" text-anchor="start" font-size="12">45.0</text>
<text transform="translate(728.5,231.26666666666665) scale(0.89,1)" fill="#000" text-anchor="start" font-size="12">40.0</text>
<text transform="translate(728.5,265.4333333333334) scale(0.89,1)" fill="#000" text-anchor="start" font-size="12">35.0</text>
<text transform="translate(728.5,299.6) scale(0.89,1)" fill="#000" text-anchor="start" font-size="12">30.0</text>
<text transform="translate(728.5,333.76666666666665) scale(0.89,1)" fill="#000" text-anchor="start" font-size="12">25.0</text>
<text transform="translate(728.5,367.93333333333334) scale(0.89,1)" fill="#000" text-anchor="start" font-size="12">20.0</text>
<text transform="translate(728.5,402.1) scale(0.89,1)" fill="#000" text-anchor="start" font-size="12">15.0</text>
<text transform="translate(728.5,436.2666666666667) scale(0.89,1)" fill="#000" text-anchor="start" font-size="12">10.0</text>
<text transform="translate(728.5,470.43333333333334) scale(0.89,1)" fill="#000" text-anchor="start" font-size="12">5.0</text>
<text transform="translate(728.5,504.6) scale(0.89,1)" fill="#000" text-anchor="start" font-size="12">0.0</text>
<text x="722" y="79" fill="#000" text-anchor="start" font-size="12" textLength="25.3" lengthAdjust="spacingAndGlyphs">km/h</text>
<g shape-rendering="crispEdges">
<line x1="759.5" y1="90" x2="759.5" y2="501" stroke="#808080" stroke-width="1"/>
<line x1="755" y1="90.5" x2="764" y2="90.5" stroke="#808080" stroke-width="1"/>
<line x1="759" y1="131.5" x2="764" y2="131.5" stroke="#808080" stroke-width="1"/>
<line x1="759" y1="172.5" x2="764" y2="172.5" stroke="#808080" stroke-width="1"/>
<line x1="759" y1="213.5" x2="764" y2="213.5" stroke="#808080" stroke-width="1"/>
<line x1="759" y1="254.5" x2="764" y2="254.5" stroke="#808080" stroke-width="1"/>
<line x1="759" y1="295.5" x2="764" y2="295.5" stroke="#808080" stroke-width="1"/>
<line x1="759" y1="336.5" x2="764" y2="336.5" stroke="#808080" stroke-width="1"/>
<line x1="759" y1="377.5" x2="764" y2="377.5" stroke="#808080" stroke-width="1"/>
<line x1="759" y1="418.5" x2="764" y2="418.5" stroke="#808080" stroke-width="1"/>
<line x1="759" y1="459.5" x2="764" y2="459.5" stroke="#808080" stroke-width="1"/>
<line x1="755" y1="500.5" x2="764" y2="500.5" stroke="#808080" stroke-width="1"/>
</g>
<text transform="translate(765.5,94.6) scale(0.89,1)" fill="#FF8000" text-anchor="start" font-size="12">100</text>
<text transform="translate(765.5,135.6) scale(0.89,1)" fill="#FF8000" text-anchor="start" font-size="12">90</text>
<text transform="translate(765.5,176.6) scale(0.89,1)" fill="#FF8000" text-anchor="start" font-size="12">80</text>
<text transform="translate(765.5,217.6) scale(0.89,1)" fill="#FF8000" text-anchor="start" font-size="12">70</text>
<text transform="translate(765.5,258.6) scale(0.89,1)" fill="#FF8000" text-anchor="start" font-size="12">60</text>
<text transform="translate(765.5,299.6) scale(0.89,1)" fill="#FF8000" text-anchor="start" font-size="12">50</text>
<text transform="translate(765.5,340.6) scale(0.89,1)" fill="#FF8000" text-anchor="start" font-size="12">40</text>
<text transform="translate(765.5,381.6) scale(0.89,1)" fill="#FF8000" text-anchor="start" font-size="12">30</text>
<text transform="translate(765.5,422.6) scale(0.89,1)" fill="#FF8000" text-anchor="start" font-size="12">20</text>
<text transform="translate(765.5,463.6) scale(0.89,1)" fill="#FF8000" text-anchor="start" font-size="12">10</text>
<text transform="translate(765.5,504.6) scale(0.89,1)" fill="#FF8000" text-anchor="start" font-size="12">0</text>
<text x="759.2" y="79" fill="#FF8000" text-anchor="start" font-size="12" textLength="16.2" lengthAdjust="spacingAndGlyphs">min</text>
<g shape-rendering="crispEdges">
<line x1="796.5" y1="90" x2="796.5" y2="501" stroke="#808080" stroke-width="1"/>
<line x1="792" y1="90.5" x2="801" y2="90.5" stroke="#808080" stroke-width="1"/>
<line x1="796" y1="110.5" x2="801" y2="110.5" stroke="#808080" stroke-width="1"/>
<line x1="796" y1="131.5" x2="801" y2="131.5" stroke="#808080" stroke-width="1"/>
<line x1="796" y1="152.5" x2="801" y2="152.5" stroke="#808080" stroke-width="1"/>
<line x1="796" y1="172.5" x2="801" y2="172.5" stroke="#808080" stroke-width="1"/>
<line x1="796" y1="192.5" x2="801" y2="192.5" stroke="#808080" stroke-width="1"/>
<line x1="796" y1="213.5" x2="801" y2="213.5" stroke="#808080" stroke-width="1"/>
<line x1="796" y1="234.5" x2="801" y2="234.5" stroke="#808080" stroke-width="1"/>
<line x1="796" y1="254.5" x2="801" y2="254.5" stroke="#808080" stroke-width="1"/>
<line x1="796" y1="274.5" x2="801" y2="274.5" stroke="#808080" stroke-width="1"/>
<line x1="796" y1="295.5" x2="801" y2="295.5" stroke="#808080" stroke-width="1"/>
<line x1="796" y1="316.5" x2="801" y2="316.5" stroke="#808080" stroke-width="1"/>
<line x1="796" y1="336.5" x2="801" y2="336.5" stroke="#808080" stroke-width="1"/>
<line x1="796" y1="356.5" x2="801" y2="356.5" stroke="#808080" stroke-width="1"/>
<line x1="796" y1="377.5" x2="801" y2="377.5" stroke="#808080" stroke-width="1"/>
<line x1="796" y1="398.5" x2="801" y2="398.5" stroke="#808080" stroke-width="1"/>
<line x1="796" y1="418.5" x2="801" y2="418.5" stroke="#808080" stroke-width="1"/>
<line x1="796" y1="438.5" x2="801" y2="438.5" stroke="#808080" stroke-width="1"/>
<line x1="796" y1="459.5" x2="801" y2="459.5" stroke="#808080" stroke-width="1"/>
<line x1="796" y1="480.5" x2="801" y2="480.5" stroke="#808080" stroke-width="1"/>
<line x1="792" y1="500.5" x2="801" y2="500.5" stroke="#808080" stroke-width="1"/>
</g>
<text transform="translate(802.5,94.6) scale(0.89,1)" fill="#FFA07A" text-anchor="start" font-size="12">1000</text>
<text transform="translate(802.5,115.1) scale(0.89,1)" fill="#FFA07A" text-anchor="start" font-size="12">950</text>
<text transform="translate(802.5,135.6) scale(0.89,1)" fill="#FFA07A" text-anchor="start" font-size="12">900</text>
<text transform="translate(802.5,156.1) scale(0.89,1)" fill="#FFA07A" text-anchor="start" font-size="12">850</text>
<text transform="translate(802.5,176.6) scale(0.89,1)" fill="#FFA07A" text-anchor="start" font-size="12">800</text>
<text transform="translate(802.5,197.1) scale(0.89,1)" fill="#FFA07A" text-anchor="start" font-size="12">750</text>
<text transform="translate(802.5,217.6) scale(0.89,1)" fill="#FFA07A" text-anchor="start" font-size="12">700</text>
<text transform="translate(802.5,238.1) scale(0.89,1)" fill="#FFA07A" text-anchor="start" font-size="12">650</text>
<text transform="translate(802.5,258.6) scale(0.89,1)" fill="#FFA07A" text-anchor="start" font-size="12">600</text>
<text transform="translate(802.5,279.1) scale(0.89,1)" fill="#FFA07A" text-anchor="start" font-size="12">550</text>
<text transform="translate(802.5,299.6) scale(0.89,1)" fill="#FFA07A" text-anchor="start" font-size="12">500</text>
<text transform="translate(802.5,320.1) scale(0.89,1)" fill="#FFA07A" text-anchor="start" font-size="12">450</text>
<text transform="translate(802.5,340.6) scale(0.89,1)" fill="#FFA07A" text-anchor="start" font-size="12">400</text>
<text transform="translate(802.5,361.1) scale(0.89,1)" fill="#FFA07A" text-anchor="start" font-size="12">350</text>
<text transform="translate(802.5,381.6) scale(0.89,1)" fill="#FFA07A" text-anchor="start" font-size="12">300</text>
<text transform="translate(802.5,402.1) scale(0.89,1)" fill="#FFA07A" text-anchor="start" font-size="12">250</text>
<text transform="translate(802.5,422.6) scale(0.89,1)" fill="#FFA07A" text-anchor="start" font-size="12">200</text>
<text transform="translate(802.5,443.1) scale(0.89,1)" fill="#FFA07A" text-anchor="start" font-size="12">150</text>
<text transform="translate(802.5,463.6) scale(0.89,1)" fill="#FFA07A" text-anchor="start" font-size="12">100</text>
<text transform="translate(802.5,484.1) scale(0.89,1)" fill="#FFA07A" text-anchor="start" font-size="12">50</text>
<text transform="translate(802.5,504.6) scale(0.89,1)" fill="#FFA07A" text-anchor="start" font-size="12">0</text>
<text x="796.2" y="79" fill="#FFA07A" text-anchor="start" font-size="12" textLength="27" lengthAdjust="spacingAndGlyphs">W/m²</text>
<g shape-rendering="crispEdges">
<line x1="188.5" y1="500" x2="188.5" y2="505" stroke="#808080" stroke-width="1"/>
<line x1="226.5" y1="500" x2="226.5" y2="505" stroke="#808080" stroke-width="1"/>
<line x1="265.5" y1="500" x2="265.5" y2="505" stroke="#808080" stroke-width="1"/>
<line x1="303.5" y1="500" x2="303.5" y2="505" stroke="#808080" stroke-width="1"/>
<line x1="341.5" y1="500" x2="341.5" y2="505" stroke="#808080" stroke-width="1"/>
<line x1="380.5" y1="500" x2="380.5" y2="505" stroke="#808080" stroke-width="1"/>
<line x1="418.5" y1="500" x2="418.5" y2="505" stroke="#808080" stroke-width="1"/>
<line x1="456.5" y1="500" x2="456.5" y2="505" stroke="#808080" stroke-width="1"/>
<line x1="495.5" y1="500" x2="495.5" y2="505" stroke="#808080" stroke-width="1"/>
<line x1="533.5" y1="500" x2="533.5" y2="505" stroke="#808080" stroke-width="1"/>
<line x1="571.5" y1="500" x2="571.5" y2="505" stroke="#808080" stroke-width="1"/>
<line x1="610.5" y1="500" x2="610.5" y2="505" stroke="#808080" stroke-width="1"/>
<line x1="648.5" y1="500" x2="648.5" y2="505" stroke="#808080" stroke-width="1"/>
<rect x="332" y="496" width="2" height="12" fill="#808080"/>
<rect x="346" y="496" width="2" height="12" fill="#FFFF00"/>
<rect x="471" y="496" width="2" height="12" fill="#808080"/>
<rect x="510" y="496" width="2" height="12" fill="#FFFF00"/>
</g>
<text transform="translate(188.5,518.6) scale(0.89,1)" fill="#000" text-anchor="middle" font-size="12">00:00</text>
<text transform="translate(226.83339999999998,518.6) scale(0.89,1)" fill="#000" text-anchor="middle" font-size="12">02:00</text>
<text transform="translate(265.16679999999997,518.6) scale(0.89,1)" fill="#000" text-anchor="middle" font-size="12">04:00</text>
<text transform="translate(303.5002,518.6) scale(0.89,1)" fill="#000" text-anchor="middle" font-size="12">06:00</text>
<text transform="translate(341.8336,518.6) scale(0.89,1)" fill="#000" text-anchor="middle" font-size="12">08:00</text>
<text transform="translate(380.167,518.6) scale(0.89,1)" fill="#000" text-anchor="middle" font-size="12">10:00</text>
<text transform="translate(418.5004,518.6) scale(0.89,1)" fill="#000" text-anchor="middle" font-size="12">12:00</text>
<text transform="translate(456.8338,518.6) scale(0.89,1)" fill="#000" text-anchor="middle" font-size="12">14:00</text>
<text transform="translate(495.1672,518.6) scale(0.89,1)" fill="#000" text-anchor="middle" font-size="12">16:00</text>
<text transform="translate(533.5006,518.6) scale(0.89,1)" fill="#000" text-anchor="middle" font-size="12">18:00</text>
<text transform="translate(571.834,518.6) scale(0.89,1)" fill="#000" text-anchor="middle" font-size="12">20:00</text>
<text transform="translate(610.1674,518.6) scale(0.89,1)" fill="#000" text-anchor="middle" font-size="12">22:00</text>
<text transform="translate(648.5008,518.6) scale(0.89,1)" fill="#000" text-anchor="middle" font-size="12">24:00</text>
<text transform="translate(10.5,529.8) scale(0.89,1)" fill="#000" text-anchor="start" font-size="12">08:32</text>
<path d="M43 523H46V524H48V526H49V529H40V526H41V524H43Z" fill="#FFFF00" shape-rendering="crispEdges"/>
<text transform="translate(313.5,529.8) scale(0.89,1)" fill="#000" text-anchor="start" font-size="12">08:18</text>
<text transform="translate(354.5,529.8) scale(0.89,1)" fill="#000" text-anchor="start" font-size="12">33</text>
<g><circle cx="347" cy="526" r="4.6" fill="none" stroke="#FFFF90" stroke-width="1.2"/><path d="M343 522l1 1M351 521.5l-1 1.5M343 530l1-1M351.5 530.5l-1.5-1.5M347 520v1.5M347 532v-1.5M352.5 526h-1" stroke="#FFFF70" stroke-width="1.2"/><circle cx="347" cy="526" r="3.2" fill="#FFFF00"/></g>
<text transform="translate(478,529.8) scale(0.89,1)" fill="#000" text-anchor="start" font-size="12">16:50</text>
<rect x="508.5" y="523.5" width="5" height="5" fill="none" stroke="#FFFF00" stroke-width="1" shape-rendering="crispEdges"/>
<path d="M468.5 520.5V526.5M468.5 520.5H470M468.5 526.5H470" stroke="#4040C0" stroke-width="1" fill="none" shape-rendering="crispEdges" stroke-dasharray="1 1"/>
<g shape-rendering="crispEdges">
<rect x="1" y="534" width="834" height="86" fill="#C0C0C0"/>
<rect x="1" y="534" width="834" height="1" fill="#B4B4B4"/>
<rect x="1" y="534" width="1" height="86" fill="#B0B0B0"/>
<rect x="87" y="534" width="1" height="86" fill="#FFFFFF"/>
<rect x="88" y="534" width="1" height="86" fill="#A8A8A8"/>
<rect x="205" y="534" width="1" height="86" fill="#FFFFFF"/>
<rect x="206" y="534" width="1" height="86" fill="#A8A8A8"/>
<rect x="322" y="534" width="1" height="86" fill="#FFFFFF"/>
<rect x="323" y="534" width="1" height="86" fill="#A8A8A8"/>
<rect x="440" y="534" width="1" height="86" fill="#FFFFFF"/>
<rect x="441" y="534" width="1" height="86" fill="#A8A8A8"/>
<rect x="558" y="534" width="1" height="86" fill="#FFFFFF"/>
<rect x="559" y="534" width="1" height="86" fill="#A8A8A8"/>
<rect x="676" y="534" width="1" height="86" fill="#FFFFFF"/>
<rect x="677" y="534" width="1" height="86" fill="#A8A8A8"/>
<rect x="794" y="534" width="1" height="86" fill="#FFFFFF"/>
<rect x="795" y="534" width="1" height="86" fill="#A8A8A8"/>
</g>
<text transform="translate(8.5,552.3) scale(0.96,1)" fill="#000" text-anchor="start" font-size="12" font-weight="bold">Sensor</text>
<text transform="translate(8.5,568.3) scale(0.96,1)" fill="#000" text-anchor="start" font-size="12" font-weight="bold">MinWert</text>
<text transform="translate(8.5,584.3) scale(0.96,1)" fill="#000" text-anchor="start" font-size="12" font-weight="bold">MaxWert</text>
<text transform="translate(8.5,600.3) scale(0.96,1)" fill="#000" text-anchor="start" font-size="12" font-weight="bold">Durchschnitt</text>
<text x="8.5" y="616.3" fill="#000" text-anchor="start" font-size="12" font-weight="bold" textLength="72" lengthAdjust="spacingAndGlyphs">12.01. 23:55</text>
<text x="95" y="552.3" fill="#000" text-anchor="start" font-size="12" font-weight="bold" textLength="63.5" lengthAdjust="spacingAndGlyphs">T- 2m aktiv</text>
<text transform="translate(198.5,552.3) scale(0.96,1)" fill="#000" text-anchor="end" font-size="12" font-weight="bold">°C</text>
<text transform="translate(100.5,568.3) scale(0.89,1)" fill="#000" text-anchor="start" font-size="12">23:50</text>
<text transform="translate(198.5,568.3) scale(0.89,1)" fill="#000" text-anchor="end" font-size="12">-1.6</text>
<text transform="translate(100.5,584.3) scale(0.89,1)" fill="#000" text-anchor="start" font-size="12">14:20</text>
<text transform="translate(198.5,584.3) scale(0.89,1)" fill="#000" text-anchor="end" font-size="12">4.3</text>
<text transform="translate(100.5,600.3) scale(0.89,1)" fill="#000" text-anchor="start" font-size="12">( - 1.06 )</text>
<text transform="translate(198.5,600.3) scale(0.89,1)" fill="#000" text-anchor="end" font-size="12">1.34</text>
<text x="198.8" y="616.3" fill="#FF0000" text-anchor="end" font-size="12" font-weight="bold" textLength="21.8" lengthAdjust="spacingAndGlyphs">-1.6</text>
<text x="212.5" y="552.3" fill="#000" text-anchor="start" font-size="12" font-weight="bold" textLength="63" lengthAdjust="spacingAndGlyphs">F- 2m aktiv</text>
<text transform="translate(316.5,552.3) scale(0.96,1)" fill="#000" text-anchor="end" font-size="12" font-weight="bold">%</text>
<text transform="translate(219,568.3) scale(0.89,1)" fill="#000" text-anchor="start" font-size="12">14:25</text>
<text transform="translate(316.5,568.3) scale(0.89,1)" fill="#000" text-anchor="end" font-size="12">65</text>
<text transform="translate(219,584.3) scale(0.89,1)" fill="#000" text-anchor="start" font-size="12">09:50</text>
<text transform="translate(316.5,584.3) scale(0.89,1)" fill="#000" text-anchor="end" font-size="12">90</text>
<text transform="translate(316.5,600.3) scale(0.89,1)" fill="#000" text-anchor="end" font-size="12">80</text>
<text transform="translate(215.5,616.3) scale(0.89,1)" fill="#000" text-anchor="start" font-size="12">3.51 g/m³</text>
<text transform="translate(316.5,616.3) scale(0.96,1)" fill="#000" text-anchor="end" font-size="12" font-weight="bold">81</text>
<text transform="translate(330.5,552.3) scale(0.96,1)" fill="#000" text-anchor="start" font-size="12" font-weight="bold">Luftdruck</text>
<text transform="translate(434,552.3) scale(0.96,1)" fill="#000" text-anchor="end" font-size="12" font-weight="bold">hPa</text>
<text transform="translate(336.5,568.3) scale(0.89,1)" fill="#000" text-anchor="start" font-size="12">00:45</text>
<text transform="translate(434,568.3) scale(0.89,1)" fill="#000" text-anchor="end" font-size="12">1030.6</text>
<text transform="translate(336.5,584.3) scale(0.89,1)" fill="#000" text-anchor="start" font-size="12">23:15</text>
<text transform="translate(434,584.3) scale(0.89,1)" fill="#000" text-anchor="end" font-size="12">1040.2</text>
<text x="330.5" y="600.3" fill="#000" text-anchor="start" font-size="12" textLength="51" lengthAdjust="spacingAndGlyphs">^1.2hPa/h</text>
<text transform="translate(434,600.3) scale(0.89,1)" fill="#000" text-anchor="end" font-size="12">1035.7</text>
<text transform="translate(330.5,616.3) scale(0.89,1)" fill="#000" text-anchor="start" font-size="12">veränderlich</text>
<text x="434.3" y="616.3" fill="#FF0000" text-anchor="end" font-size="12" font-weight="bold" textLength="38.8" lengthAdjust="spacingAndGlyphs">1040.2</text>
<text transform="translate(448.5,552.3) scale(0.96,1)" fill="#000" text-anchor="start" font-size="12" font-weight="bold">Windböen</text>
<text x="552.3" y="552.3" fill="#000" text-anchor="end" font-size="12" font-weight="bold" textLength="28.8" lengthAdjust="spacingAndGlyphs">km/h</text>
<text transform="translate(448.5,568.3) scale(0.89,1)" fill="#000" text-anchor="start" font-size="12">Ø 10 min.</text>
<text transform="translate(552,568.3) scale(0.89,1)" fill="#000" text-anchor="end" font-size="12">0.0</text>
<text transform="translate(455,584.3) scale(0.89,1)" fill="#000" text-anchor="start" font-size="12">13:00</text>
<text transform="translate(552,584.3) scale(0.89,1)" fill="#000" text-anchor="end" font-size="12">N-NW 14.5</text>
<text transform="translate(552,600.3) scale(0.89,1)" fill="#000" text-anchor="end" font-size="12">1.9</text>
<text transform="translate(455,616.3) scale(0.89,1)" fill="#000" text-anchor="start" font-size="12">0 Bft N</text>
<text transform="translate(552,616.3) scale(0.96,1)" fill="#000" text-anchor="end" font-size="12" font-weight="bold">0.0</text>
<text transform="translate(566.5,552.3) scale(0.96,1)" fill="#000" text-anchor="start" font-size="12" font-weight="bold">Regen</text>
<text transform="translate(670.5,552.3) scale(0.96,1)" fill="#000" text-anchor="end" font-size="12" font-weight="bold">l/m²</text>
<text transform="translate(566.5,568.3) scale(0.89,1)" fill="#000" text-anchor="start" font-size="12">3:00 h</text>
<text transform="translate(573,584.3) scale(0.89,1)" fill="#000" text-anchor="start" font-size="12">00:00</text>
<text transform="translate(670.5,584.3) scale(0.89,1)" fill="#000" text-anchor="end" font-size="12">0.0</text>
<text transform="translate(566.5,600.3) scale(0.89,1)" fill="#000" text-anchor="start" font-size="12">Gesamt:</text>
<text transform="translate(670.5,600.3) scale(0.89,1)" fill="#000" text-anchor="end" font-size="12">0.0</text>
<text transform="translate(570,616.3) scale(0.89,1)" fill="#000" text-anchor="start" font-size="12">0.0 l/m²</text>
<text transform="translate(670.5,616.3) scale(0.96,1)" fill="#000" text-anchor="end" font-size="12" font-weight="bold">0.0</text>
<text x="684.5" y="552.3" fill="#000" text-anchor="start" font-size="12" font-weight="bold" textLength="52.3" lengthAdjust="spacingAndGlyphs">PMV-1:-2</text>
<text transform="translate(684.5,568.3) scale(0.89,1)" fill="#000" text-anchor="start" font-size="12">WC -1.6 °C</text>
<text transform="translate(684.5,584.3) scale(0.89,1)" fill="#000" text-anchor="start" font-size="12">TP -4.4 °C</text>
<text transform="translate(684.5,600.3) scale(0.89,1)" fill="#000" text-anchor="start" font-size="12">0.6hPa/3h</text>
<text transform="translate(684.5,616.3) scale(0.89,1)" fill="#000" text-anchor="start" font-size="12">0.2hPa/1h</text>
</svg></body></html>
